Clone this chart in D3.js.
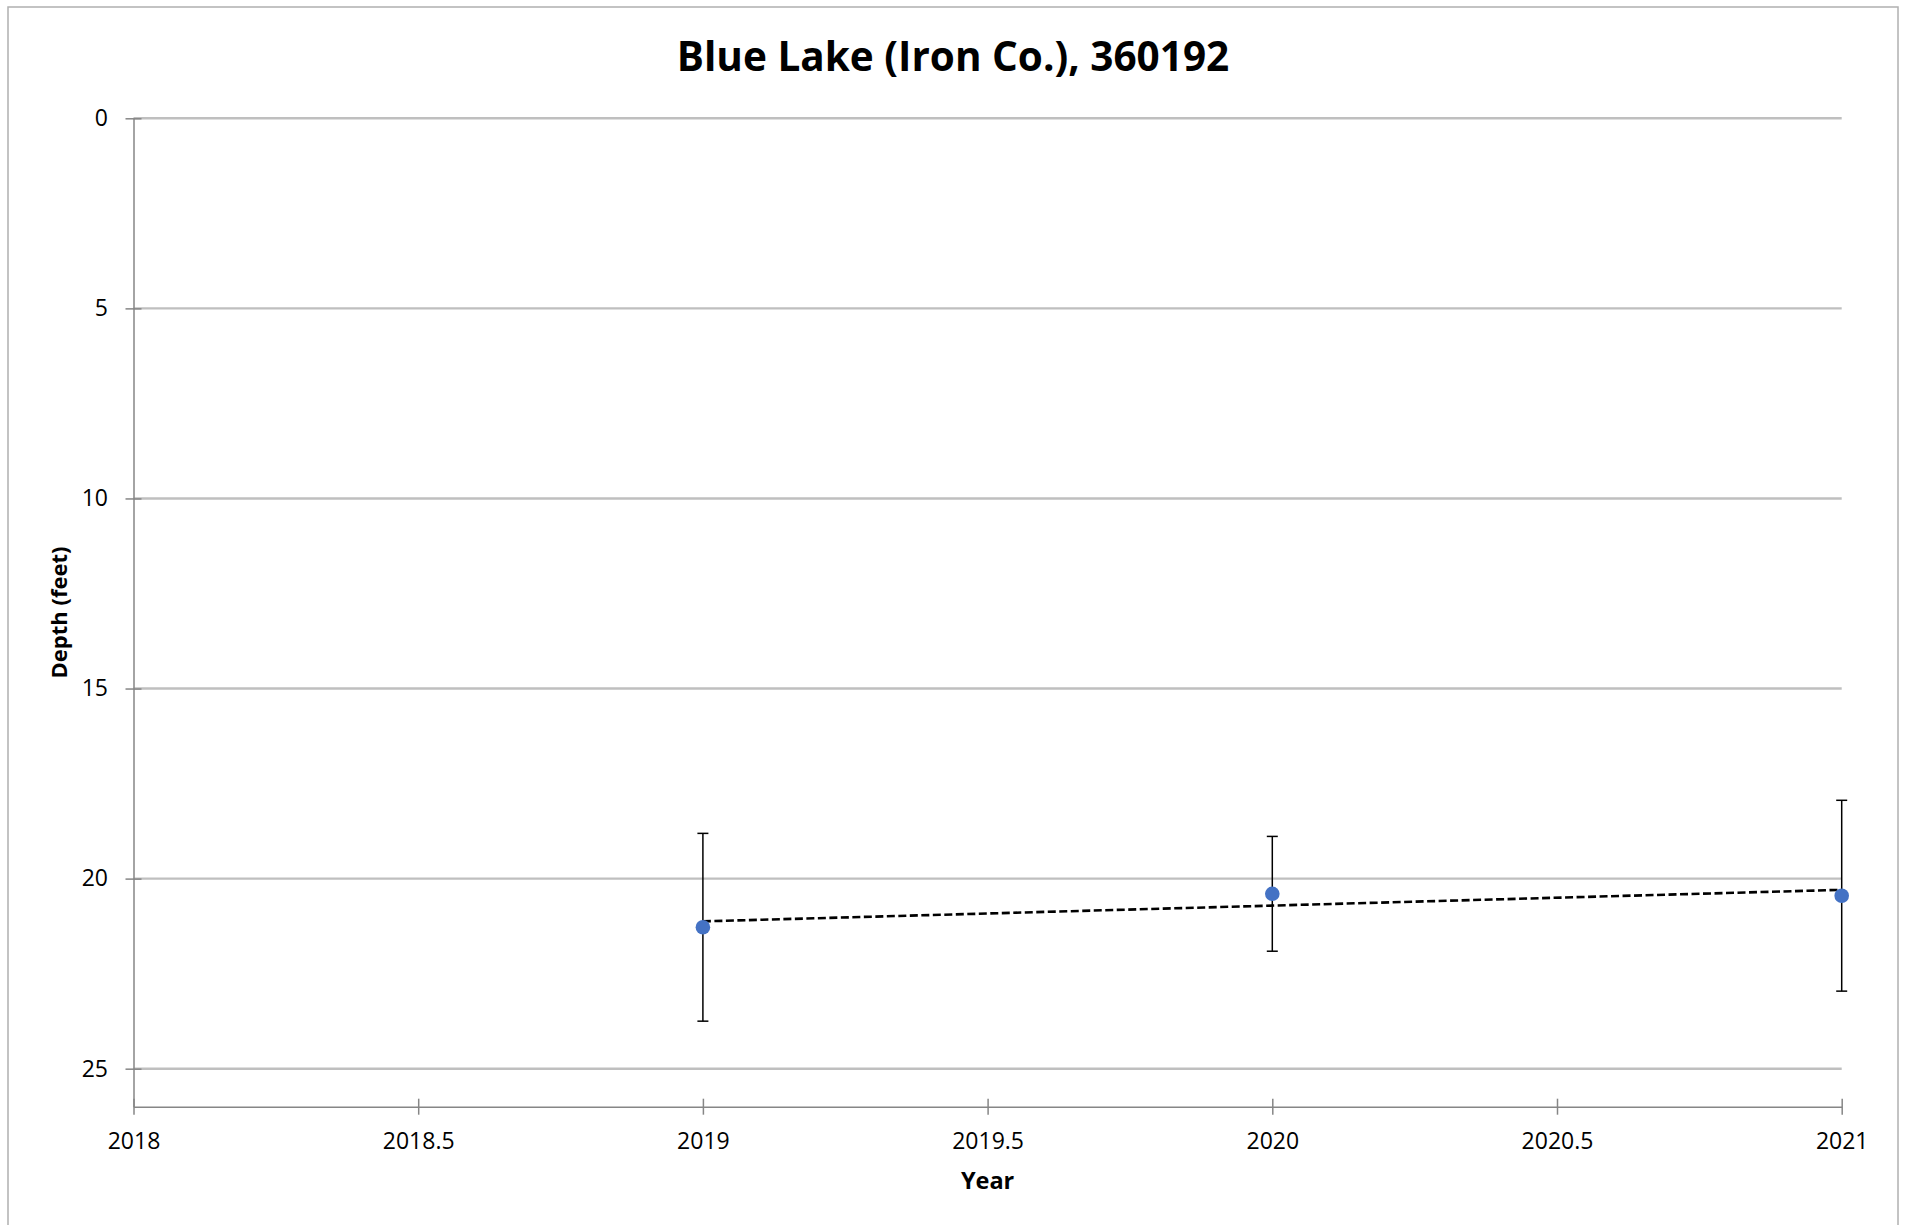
<meta charset="utf-8">
<html>
<head>
<title>Blue Lake (Iron Co.), 360192</title>
<script src="https://d3js.org/d3.v7.min.js"></script>
<style>
body { margin: 0; background: #fff; }
.tick text { font-family: "Open Sans", sans-serif; font-size: 23px; fill: #000; }
.axis path { stroke: #868686; stroke-width: 1.5; }
.axis line { stroke: #868686; stroke-width: 1.5; }
.grid line { stroke: #bfbfbf; stroke-width: 2.4; }
.title { font-family: "Open Sans", sans-serif; font-weight: bold; font-size: 40.5px; fill: #000; }
.axistext { font-family: "Open Sans", sans-serif; font-weight: bold; font-size: 22px; fill: #000; }
</style>
</head>
<body>
<svg width="1908" height="1225"></svg>
<script>

// secchi depth by year
var years  = [2019, 2020, 2021];
var depths = [21.28, 20.40, 20.45];
var errs   = [2.47, 1.51, 2.51];

var yTicks = [0, 5, 10, 15, 20, 25];
var xTicks = [2018, 2018.5, 2019, 2019.5, 2020, 2020.5, 2021];

var svg = d3.select("svg");

var x = d3.scaleLinear().domain([2018, 2021]).range([133.5, 1841.7]),
    y = d3.scaleLinear().domain([0, 26]).range([118.3, 1106.7]);

// outer frame
svg.append("rect")
    .attr("x", 8).attr("y", 7)
    .attr("width", 1890).attr("height", 1240)
    .attr("fill", "none")
    .attr("stroke", "#b0b0b0")
    .attr("stroke-width", 1.5);

svg.append("text")
    .attr("class", "title")
    .attr("x", 953)
    .attr("y", 71)
    .attr("text-anchor", "middle")
    .text("Blue Lake (Iron Co.), 360192");

/*gridlines*/
svg.append("g")
    .attr("class", "grid")
  .selectAll("line")
    .data(yTicks)
  .enter().append("line")
    .attr("x1", x(2018))
    .attr("x2", x(2021))
    .attr("y1", function(d) { return y(d); })
    .attr("y2", function(d) { return y(d); });

var gy = svg.append("g")
    .attr("class", "axis")
    .attr("transform", "translate(" + x(2018) + ",0)")
    .call(d3.axisLeft(y).tickValues(yTicks).tickSizeInner(8).tickSizeOuter(0).tickPadding(17.5));
gy.selectAll(".tick line").attr("x1", 8);

var gx = svg.append("g")
    .attr("class", "axis")
    .attr("transform", "translate(0," + y(26) + ")")
    .call(d3.axisBottom(x).tickValues(xTicks).tickSizeInner(8).tickSizeOuter(0).tickPadding(18)
      .tickFormat(function(d) { return String(d); }));
gx.selectAll(".tick line").attr("y1", -8);

/*axis titles*/
svg.append("text")
    .attr("class", "axistext")
    .attr("x", (x(2018) + x(2021)) / 2)
    .attr("y", 1189)
    .attr("text-anchor", "middle")
    .style("font-size", "23.5px")
    .text("Year");

svg.append("text")
    .attr("class", "axistext")
    .attr("transform", "translate(67," + (y(0) + y(26)) / 2 + ") rotate(-90)")
    .attr("text-anchor", "middle")
    .text("Depth (feet)");

/*linear trend*/
var mx = d3.mean(years), my = d3.mean(depths);
var slope = d3.sum(years, function(d, i) { return (d - mx) * (depths[i] - my); }) /
            d3.sum(years, function(d) { return (d - mx) * (d - mx); });
var x0 = d3.min(years), x1 = d3.max(years);

svg.append("line")
    .attr("x1", x(x0)).attr("y1", y(my + slope * (x0 - mx)))
    .attr("x2", x(x1)).attr("y2", y(my + slope * (x1 - mx)))
    .attr("stroke", "#000")
    .attr("stroke-width", 2.6)
    .attr("stroke-dasharray", "8,3.5");

/*error bars*/
var eb = svg.selectAll(".err")
    .data(years)
  .enter().append("g")
    .attr("class", "err")
    .attr("stroke", "#000")
    .attr("stroke-width", 1.5);

eb.append("line")
    .attr("x1", function(d) { return x(d); })
    .attr("x2", function(d) { return x(d); })
    .attr("y1", function(d, i) { return y(depths[i] - errs[i]); })
    .attr("y2", function(d, i) { return y(depths[i] + errs[i]); });
eb.append("line")
    .attr("x1", function(d) { return x(d) - 5.5; })
    .attr("x2", function(d) { return x(d) + 5.5; })
    .attr("y1", function(d, i) { return y(depths[i] - errs[i]); })
    .attr("y2", function(d, i) { return y(depths[i] - errs[i]); });
eb.append("line")
    .attr("x1", function(d) { return x(d) - 5.5; })
    .attr("x2", function(d) { return x(d) + 5.5; })
    .attr("y1", function(d, i) { return y(depths[i] + errs[i]); })
    .attr("y2", function(d, i) { return y(depths[i] + errs[i]); });

svg.selectAll(".dot")
    .data(years)
  .enter().append("circle")
    .attr("class", "dot")
    .attr("cx", function(d) { return x(d); })
    .attr("cy", function(d, i) { return y(depths[i]); })
    .attr("r", 7.3)
    .attr("fill", "#4472c4");

</script>
</body>
</html>
